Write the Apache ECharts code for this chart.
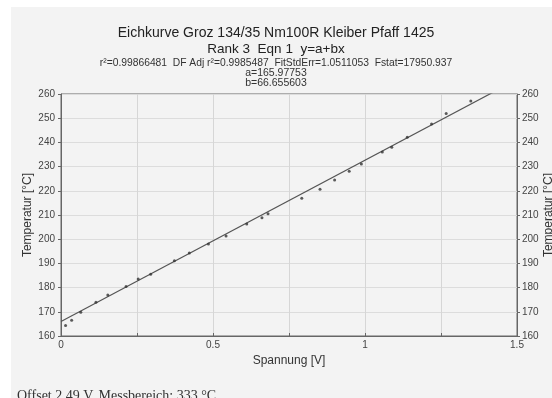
<!DOCTYPE html>
<html>
<head>
<meta charset="utf-8">
<script src="https://cdn.jsdelivr.net/npm/echarts@6/dist/echarts.min.js"></script>
<style>
html,body{margin:0;padding:0;background:#fff;}
#c{width:552px;height:398px;}
</style>
</head>
<body>
<div id="c"></div>
<script>
// Measured points (Spannung [V], Temperatur [°C])
const voltage = [0.015, 0.035, 0.065, 0.115, 0.154, 0.214, 0.254, 0.295, 0.373, 0.422, 0.485, 0.543, 0.611, 0.661, 0.681, 0.792, 0.852, 0.900, 0.948, 0.988, 1.057, 1.088, 1.139, 1.219, 1.267, 1.348];
const temperature = [164.3, 166.5, 169.8, 173.9, 176.9, 180.5, 183.6, 185.5, 191.1, 194.3, 198.0, 201.3, 206.3, 208.9, 210.5, 216.9, 220.6, 224.5, 228.1, 231.1, 236.0, 238.0, 242.1, 247.6, 251.9, 257.1];
// Fit parameters y = a + b x
const fitA = 165.97753;
const fitB = 66.655603;
const fitX = [0, 1.5];
const xTickLabels = ['0', '0.5', '1', '1.5'];
const yTicks = [160, 170, 180, 190, 200, 210, 220, 230, 240, 250, 260];

const titleMain = 'Eichkurve Groz 134/35 Nm100R Kleiber Pfaff 1425';
const titleRank = 'Rank 3  Eqn 1  y=a+bx';
const titleStats = 'r²=0.99866481  DF Adj r²=0.9985487  FitStdErr=1.0511053  Fstat=17950.937';
const titleA = 'a=165.97753';
const titleB = 'b=66.655603';
const footer = 'Offset 2.49 V, Messbereich: 333 °C';

const points = voltage.map((v, i) => [v, temperature[i]]);
const fitLine = fitX.map(x => [x, fitA + fitB * x]);

const chart = echarts.init(document.getElementById('c'), null, {renderer: 'canvas'});
const sans = 'Liberation Sans, Arial, sans-serif';
const axisCommon = {
  type: 'value',
  min: yTicks[0], max: yTicks[yTicks.length - 1], interval: 10,
  axisLine: {show: true, lineStyle: {color: '#666', width: 1}},
  axisTick: {show: true, inside: false, length: 3, lineStyle: {color: '#666'}},
  axisLabel: {color: '#444', fontSize: 10, fontFamily: sans, margin: 6},
  name: 'Temperatur [°C]',
  nameLocation: 'middle',
  nameMoveOverlap: false,
  nameTextStyle: {color: '#333', fontSize: 12, fontFamily: sans}
};
chart.setOption({
  backgroundColor: '#ffffff',
  animation: false,
  graphic: [
    {type: 'rect', z: -10, shape: {x: 11, y: 7, width: 560, height: 400}, style: {fill: '#f3f3f3'}},
    {type: 'text', left: 17, top: 389, style: {text: footer, font: '14px "Liberation Serif", "Times New Roman", serif', fill: '#333'}}
  ],
  title: [
    {text: titleMain, left: 'center', top: 21, textStyle: {fontSize: 14, fontWeight: 'normal', color: '#222', fontFamily: sans}},
    {text: titleRank, left: 'center', top: 37, textStyle: {fontSize: 13.5, fontWeight: 'normal', color: '#222', fontFamily: sans}},
    {text: titleStats, left: 'center', top: 53, textStyle: {fontSize: 10.3, fontWeight: 'normal', color: '#333', fontFamily: sans}},
    {text: titleA, left: 'center', top: 63, textStyle: {fontSize: 10.5, fontWeight: 'normal', color: '#333', fontFamily: sans}},
    {text: titleB, left: 'center', top: 73, textStyle: {fontSize: 10.5, fontWeight: 'normal', color: '#333', fontFamily: sans}}
  ],
  grid: {left: 61, right: 35, top: 94, bottom: 62, show: true, borderColor: '#666', borderWidth: 1,
    backgroundColor: 'transparent', containLabel: false, outerBoundsMode: 'none'},
  xAxis: {
    type: 'value', min: 0, max: 1.5, interval: 0.25,
    name: 'Spannung [V]', nameLocation: 'middle', nameGap: 18,
    nameTextStyle: {color: '#333', fontSize: 12, fontFamily: sans},
    axisLine: {show: true, lineStyle: {color: '#666'}},
    axisTick: {show: true, inside: true, length: 3, lineStyle: {color: '#666'}},
    axisLabel: {color: '#444', fontSize: 10, fontFamily: sans, margin: 4,
      formatter: function (v) { const i = xTickLabels.indexOf(String(v)); return i >= 0 ? xTickLabels[i] : ''; }},
    splitLine: {show: true, lineStyle: {color: '#d6d6d6', width: 1}}
  },
  yAxis: [
    Object.assign({}, axisCommon, {position: 'left', nameGap: 27,
      splitLine: {show: true, lineStyle: {color: '#dcdcdc', width: 1}}}),
    Object.assign({}, axisCommon, {position: 'right', nameGap: 26, nameRotate: 90,
      axisLabel: {color: '#444', fontSize: 10, fontFamily: sans, margin: 5},
      splitLine: {show: false}})
  ],
  series: [
    {type: 'line', data: fitLine, showSymbol: false, symbol: 'none', clip: true,
      lineStyle: {color: '#555', width: 1.2}, z: 2},
    {type: 'scatter', data: points, symbol: 'circle', symbolSize: 3,
      itemStyle: {color: '#333'}, z: 3}
  ]
});
</script>
</body>
</html>
